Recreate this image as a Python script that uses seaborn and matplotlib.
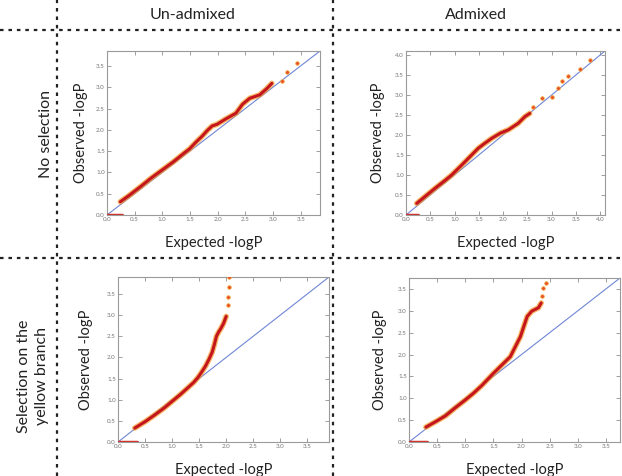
import matplotlib
matplotlib.use("Agg")
import matplotlib.pyplot as plt
from matplotlib.lines import Line2D
from matplotlib.ticker import MultipleLocator, FormatStrFormatter
import seaborn as sns
import pandas as pd

sns.set_theme(style="white")
plt.rcParams['font.family'] = ['Lato', 'DejaVu Sans']

# expected / observed -log10 p values
tl_exp = [0.24, 0.40, 0.60, 0.79, 1.00, 1.20, 1.40, 1.49, 1.60, 1.72, 1.81, 1.90, 1.99, 2.14, 2.33, 2.45, 2.58, 2.76, 2.89, 2.98]
tl_obs = [0.31, 0.46, 0.66, 0.86, 1.06, 1.25, 1.46, 1.55, 1.70, 1.85, 1.98, 2.09, 2.13, 2.25, 2.39, 2.60, 2.74, 2.82, 2.97, 3.09]
tl_tail_exp = [3.16, 3.25, 3.43]
tl_tail_obs = [3.15, 3.36, 3.57]

tr_exp = [0.22, 0.40, 0.60, 0.80, 0.94, 1.15, 1.32, 1.49, 1.62, 1.77, 1.95, 2.11, 2.31, 2.45, 2.55]
tr_obs = [0.29, 0.47, 0.67, 0.86, 1.00, 1.25, 1.46, 1.67, 1.79, 1.92, 2.05, 2.13, 2.29, 2.46, 2.54]
tr_tail_exp = [2.62, 2.80, 3.00, 3.14, 3.21, 3.33, 3.58, 3.79]
tr_tail_obs = [2.71, 2.92, 2.96, 3.17, 3.35, 3.48, 3.65, 3.87]

bl_exp = [0.31, 0.50, 0.68, 0.85, 1.00, 1.15, 1.28, 1.40, 1.48, 1.55, 1.62, 1.68, 1.74, 1.78, 1.82, 1.86, 1.90, 1.95, 2.00]
bl_obs = [0.33, 0.48, 0.64, 0.80, 0.96, 1.12, 1.27, 1.41, 1.53, 1.66, 1.80, 1.95, 2.12, 2.30, 2.50, 2.60, 2.68, 2.80, 2.97]
bl_tail_exp = [2.03, 2.04, 2.05, 2.06]
bl_tail_obs = [3.23, 3.43, 3.67, 3.90]

br_exp = [0.30, 0.48, 0.65, 0.82, 1.00, 1.15, 1.30, 1.50, 1.65, 1.80, 1.89, 1.98, 2.04, 2.10, 2.18, 2.30, 2.35]
br_obs = [0.34, 0.47, 0.60, 0.78, 0.96, 1.12, 1.30, 1.57, 1.76, 1.95, 2.18, 2.41, 2.64, 2.87, 2.99, 3.07, 3.18]
br_tail_exp = [2.36, 2.39, 2.43]
br_tail_obs = [3.33, 3.53, 3.64]

zero_end = [0.28, 0.25, 0.35, 0.32]   # points at observed 0
limits = [3.85, 4.1, 3.9, 3.75]

col_titles = ["Un-admixed", "Admixed"]
row_titles = ["No selection", "Selection on the\nyellow branch"]

W, H = 622, 476
fig = plt.figure(figsize=(W / 100, H / 100), dpi=100)

# axes boxes in pixels: left, right, top, bottom
boxes = [(107, 320, 51, 215), (406, 605, 51, 215), (118, 329, 277, 442), (409, 620, 278, 442)]
ylab_x = [-0.09, -0.105, -0.118, -0.104]

panels = [(tl_exp, tl_obs, tl_tail_exp, tl_tail_obs),
          (tr_exp, tr_obs, tr_tail_exp, tr_tail_obs),
          (bl_exp, bl_obs, bl_tail_exp, bl_tail_obs),
          (br_exp, br_obs, br_tail_exp, br_tail_obs)]

for i, (ex, ob, tex, tob) in enumerate(panels):
    l, r, t, b = boxes[i]
    ax = fig.add_axes([l / W, 1 - b / H, (r - l) / W, (b - t) / H])
    L = limits[i]
    ax.plot([0, L], [0, L], color="#6f86d6", lw=0.8, zorder=1)
    dense = pd.DataFrame({"e": ex, "o": ob})
    sns.lineplot(data=dense, x="e", y="o", sort=False, color="#f39a2a", lw=4, alpha=0.7, ax=ax, zorder=2)
    sns.lineplot(data=dense, x="e", y="o", sort=False, color="#c4161c", lw=2.2, ax=ax, zorder=3)
    tail = pd.DataFrame({"e": tex, "o": tob})
    sns.scatterplot(data=tail, x="e", y="o", color="#e8502a", edgecolor="#f5b041", s=7, linewidth=0.5, ax=ax, zorder=4)
    zero = pd.DataFrame({"e": [0, zero_end[i]], "o": [0, 0]})
    sns.lineplot(data=zero, x="e", y="o", color="#d0342c", lw=2.5, ax=ax, zorder=3)
    ax.set_xlim(0, L)
    ax.set_ylim(0, L)
    ax.xaxis.set_major_locator(MultipleLocator(0.5))
    ax.yaxis.set_major_locator(MultipleLocator(0.5))
    ax.xaxis.set_major_formatter(FormatStrFormatter("%.1f"))
    ax.yaxis.set_major_formatter(FormatStrFormatter("%.1f"))
    ax.tick_params(direction="in", length=3, width=0.5, labelsize=4.5, colors="#777777",
                   top=True, right=True, bottom=True, left=True, pad=1.5)
    for s in ax.spines.values():
        s.set_color("#9a9a9a")
        s.set_linewidth(0.8)
    ax.set_xlabel("Expected -logP", fontsize=10.5, color="#222222")
    ax.set_ylabel("Observed -logP", fontsize=10.5, color="#222222")
    ax.xaxis.set_label_coords(0.5, -0.13)
    ax.yaxis.set_label_coords(ylab_x[i], 0.5)

# headers
fig.text(193 / W, 1 - 15 / H, col_titles[0], ha="center", va="center", fontsize=11.5, color="#222222")
fig.text(476 / W, 1 - 15 / H, col_titles[1], ha="center", va="center", fontsize=11.5, color="#222222")
fig.text(46 / W, 1 - 134 / H, row_titles[0], ha="center", va="center", rotation=90, fontsize=11.5, color="#222222")
fig.text(33 / W, 1 - 376 / H, row_titles[1], ha="center", va="center", rotation=90, fontsize=11.5,
         color="#222222", linespacing=1.3)

# dotted separators
ls = (0, (1.6, 2.2))
for x in (57, 333):
    fig.add_artist(Line2D([x / W, x / W], [0, 1], color="#222222", lw=1.6, linestyle=ls))
for y in (30, 258):
    fig.add_artist(Line2D([0, 1], [1 - y / H, 1 - y / H], color="#222222", lw=1.6, linestyle=ls))

fig.savefig("out.png", dpi=100, facecolor="white")
